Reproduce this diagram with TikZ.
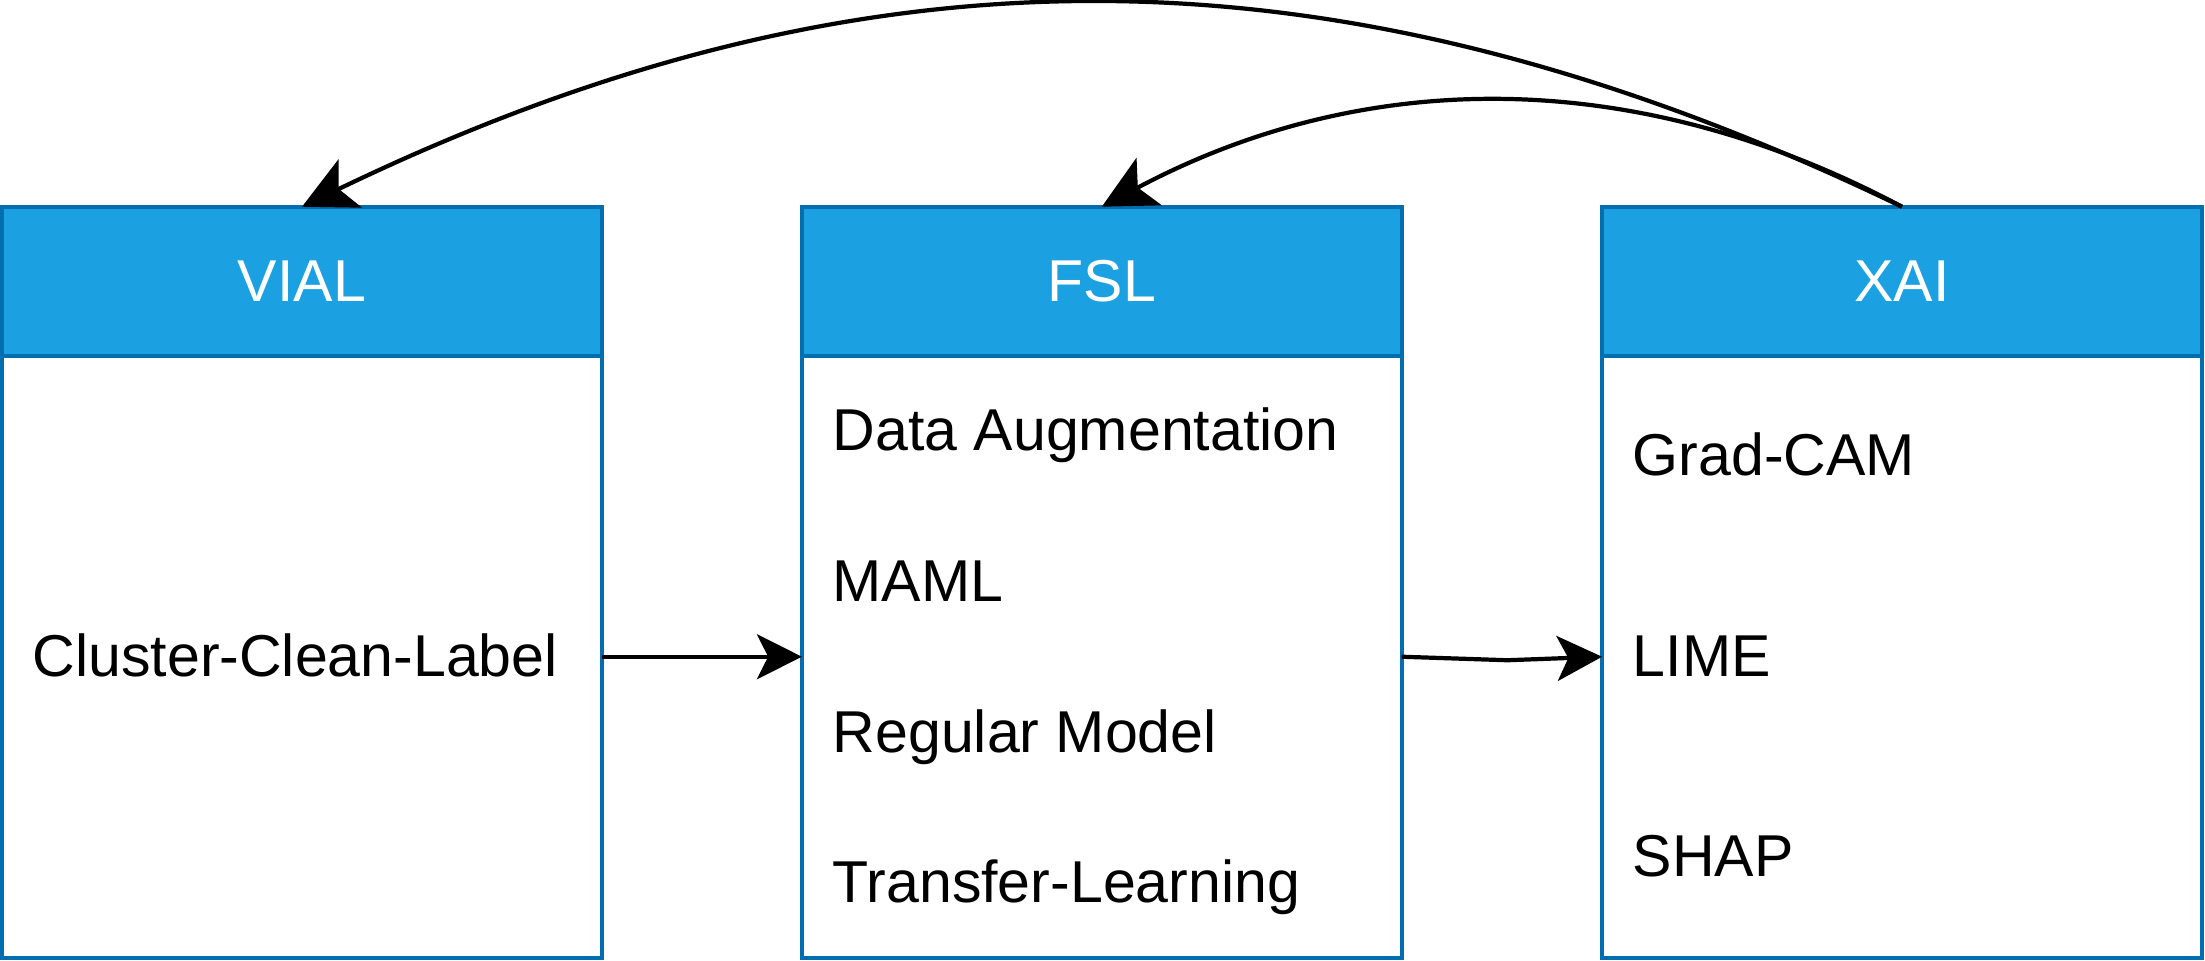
\documentclass[tikz,border=0pt]{standalone}
\usepackage{fontspec}
\setmainfont{Liberation Sans}
\usetikzlibrary{arrows.meta}
\definecolor{hdrfill}{HTML}{1BA1E2}
\definecolor{boxline}{HTML}{006EAF}
\begin{document}
\begin{tikzpicture}[x=1pt,y=-1pt,
  hdr/.style={draw=boxline, fill=hdrfill, line width=2.8pt, minimum width=426.5pt, minimum height=106pt, inner sep=0pt, outer sep=0pt, text=white, font=\fontsize{42}{50}\selectfont},
  bodybox/.style={draw=boxline, fill=white, line width=2.8pt, minimum width=426.5pt, minimum height=428pt, inner sep=0pt, outer sep=0pt},
  item/.style={anchor=base west, inner sep=0pt, font=\fontsize{42}{50}\selectfont},
  conn/.style={line width=3pt, -{Stealth[length=32pt,width=32pt,inset=8pt]}},
  curveconn/.style={line width=3pt, -{Stealth[length=38pt,width=38pt,inset=9pt]}}
]
\useasboundingbox (0,0) rectangle (1568,683);
% boxes
\node[bodybox] (vialb) at (214.75,467) {};
\node[hdr] (vialh) at (214.75,200) {VIAL};
\node[bodybox] (fslb) at (783.5,467) {};
\node[hdr] (fslh) at (783.5,200) {FSL};
\node[bodybox] (xaib) at (1352.5,467) {};
\node[hdr] (xaih) at (1352.5,200) {XAI};
% items
\node[item] (ccl) at (23,481) {Cluster-Clean-Label};
\node[item] (da) at (592,320.6) {Data Augmentation};
\node[item] (maml) at (592,427.5) {MAML};
\node[item] (rm) at (592,535) {Regular Model};
\node[item] (tl) at (592,642) {Transfer-Learning};
\node[item] (gc) at (1161,338) {Grad-CAM};
\node[item] (lime) at (1161,481) {LIME};
\node[item] (shap) at (1161,623.5) {SHAP};
% connectors
\draw[conn] (vialb.east) -- (fslb.west);
\coordinate (bend) at (1072,469.5);
\draw[conn] (fslb.east) -- (bend) -- (xaib.west);
\draw[curveconn] (xaih.north) .. controls +(-400,-193) and +(400,-193) .. (vialh.north);
\draw[curveconn] (xaih.north) .. controls +(-188,-100) and +(188,-100) .. (fslh.north);
\end{tikzpicture}
\end{document}
